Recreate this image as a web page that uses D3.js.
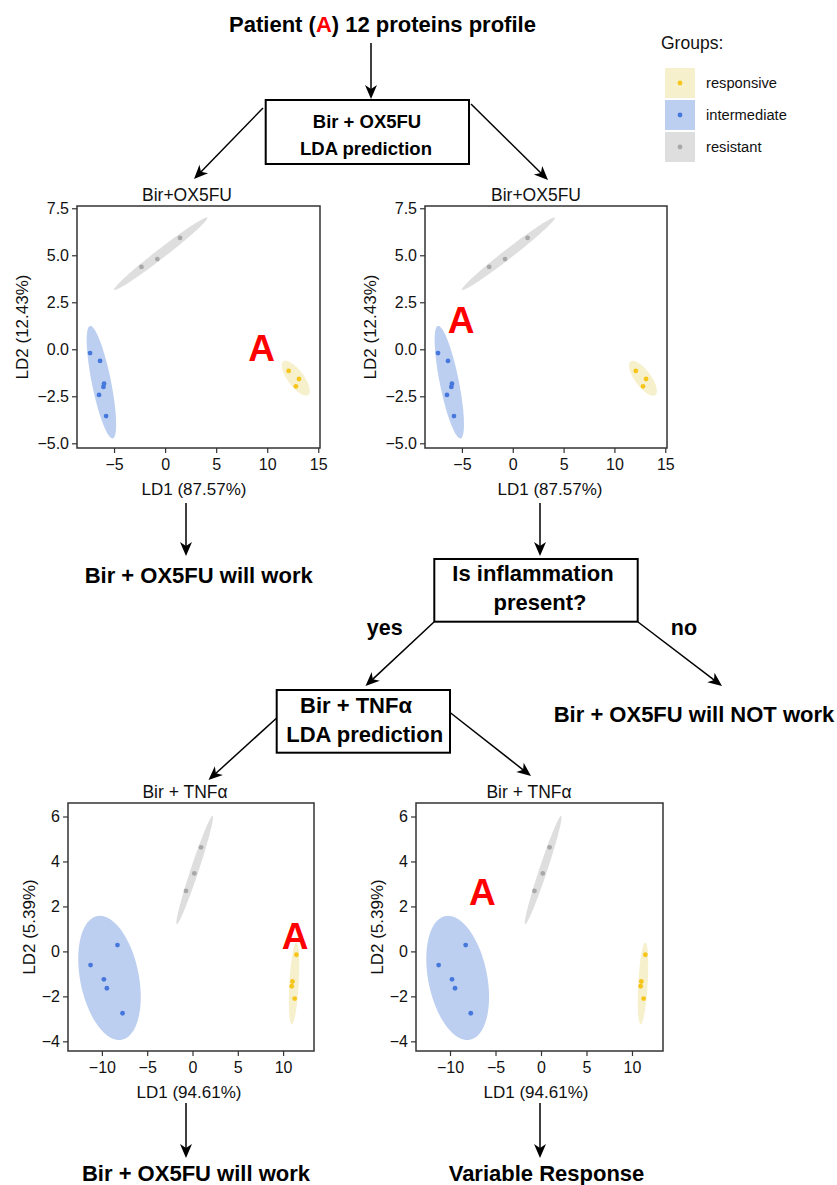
<!DOCTYPE html>
<html>
<head>
<meta charset="utf-8">
<script src="https://cdn.jsdelivr.net/npm/d3@7"></script>
<style>
body { margin: 0; background: #fff; }
text { font-family: "Liberation Sans", Arial, Helvetica, sans-serif; }
</style>
</head>
<body>
<svg id="chart" width="837" height="1185"></svg>
<script>
// グループ
var groups = ["responsive", "intermediate", "resistant"];
var groupFill = ["#f6f0cc", "#bccff0", "#dedede"];
var groupDot = ["#f6c51a", "#4677dc", "#a8a8a8"];

// Bir + OX5FU の LDA (LD1, LD2)
var oxResponsive = [[12.10, -1.15], [13.11, -1.58], [12.81, -1.97]];
var oxIntermediate = [[-7.35, -0.20], [-6.37, -0.62], [-5.98, -1.83], [-6.04, -2.00], [-6.47, -2.43], [-5.78, -3.55]];
var oxResistant = [[1.46, 5.92], [-0.76, 4.80], [-2.32, 4.38]];
// 楕円: 中心, 長軸ベクトル, 短軸ベクトル (データ単位)
var oxEllipses = [
    [12.80, -1.54, 1.22, -0.89, 0.63, 0.255],
    [-6.24, -1.75, 1.11, -2.99, 0.92, 0.10],
    [-0.43, 5.08, 4.57, 1.92, 0.28, -0.197]
];
var oxXTicks = [-5, 0, 5, 10, 15];
var oxYTicks = [-5, -2.5, 0, 2.5, 5, 7.5];
var oxXDomain = [-8.63, 15.17];
var oxYDomain = [-5.25, 7.62];
// 患者Aの位置 (左, 右)
var oxPatientA = [[9.45, -0.62], [-5.07, 0.89]];

// Bir + TNFα の LDA
var tnfResponsive = [[11.47, -0.15], [11.03, -1.34], [10.95, -1.55], [11.28, -2.10]];
var tnfIntermediate = [[-8.28, 0.28], [-11.25, -0.61], [-9.78, -1.24], [-9.45, -1.64], [-7.72, -2.75]];
var tnfResistant = [[0.94, 4.63], [0.20, 3.47], [-0.72, 2.69]];
var tnfEllipses = [
    [11.21, -1.42, -0.257, -1.82, 0.514, -0.012],
    [-9.16, -1.18, 1.36, -2.75, 3.17, 0.257],
    [0.24, 3.62, 1.98, 2.41, 0.418, -0.056]
];
var tnfXTicks = [-10, -5, 0, 5, 10];
var tnfYTicks = [-4, -2, 0, 2, 4, 6];
var tnfXDomain = [-13.74, 13.41];
var tnfYDomain = [-4.43, 6.6];
var tnfPatientA = [[11.32, 0.09], [-6.44, 2.06]];

var svg = d3.select("#chart");

// パネルの設定
var panels = [
    { title: "Bir+OX5FU", l: 77, t: 206, r: 320, b: 448, titleX: 187, xLabX: 194, yLabX: 27.7,
      xd: oxXDomain, yd: oxYDomain, xt: oxXTicks, yt: oxYTicks, fmt: ".1f",
      xLab: "LD1 (87.57%)", yLab: "LD2 (12.43%)",
      pts: [oxResponsive, oxIntermediate, oxResistant], ell: oxEllipses, a: oxPatientA[0] },
    { title: "Bir+OX5FU", l: 425, t: 206, r: 667, b: 448, titleX: 536, xLabX: 550, yLabX: 376,
      xd: oxXDomain, yd: oxYDomain, xt: oxXTicks, yt: oxYTicks, fmt: ".1f",
      xLab: "LD1 (87.57%)", yLab: "LD2 (12.43%)",
      pts: [oxResponsive, oxIntermediate, oxResistant], ell: oxEllipses, a: oxPatientA[1] },
    { title: "Bir + TNFα", l: 68, t: 803, r: 314, b: 1051, titleX: 185, xLabX: 189, yLabX: 35,
      xd: tnfXDomain, yd: tnfYDomain, xt: tnfXTicks, yt: tnfYTicks, fmt: "d",
      xLab: "LD1 (94.61%)", yLab: "LD2 (5.39%)",
      pts: [tnfResponsive, tnfIntermediate, tnfResistant], ell: tnfEllipses, a: tnfPatientA[0] },
    { title: "Bir + TNFα", l: 416, t: 803, r: 663, b: 1051, titleX: 529, xLabX: 536, yLabX: 383,
      xd: tnfXDomain, yd: tnfYDomain, xt: tnfXTicks, yt: tnfYTicks, fmt: "d",
      xLab: "LD1 (94.61%)", yLab: "LD2 (5.39%)",
      pts: [tnfResponsive, tnfIntermediate, tnfResistant], ell: tnfEllipses, a: tnfPatientA[1] }
];

var angles = d3.range(0, 2 * Math.PI, Math.PI / 60);

panels.forEach(function (p) {
    var x = d3.scaleLinear().domain(p.xd).range([p.l, p.r]);
    var y = d3.scaleLinear().domain(p.yd).range([p.b, p.t]);
    var g = svg.append("g");

    // 楕円
    p.ell.forEach(function (e, i) {
        var line = d3.line()
            .x(function (a) { return x(e[0] + e[2] * Math.cos(a) + e[4] * Math.sin(a)); })
            .y(function (a) { return y(e[1] + e[3] * Math.cos(a) + e[5] * Math.sin(a)); })
            .curve(d3.curveLinearClosed);
        g.append("path")
            .attr("d", line(angles))
            .attr("fill", groupFill[i]);
    });

    // 点
    p.pts.forEach(function (pts, i) {
        g.selectAll(null)
            .data(pts)
            .enter()
            .append("circle")
            .attr("cx", function (d) { return x(d[0]); })
            .attr("cy", function (d) { return y(d[1]); })
            .attr("r", 2.4)
            .attr("fill", groupDot[i]);
    });

    // 患者A
    g.append("text")
        .attr("x", x(p.a[0]))
        .attr("y", y(p.a[1]))
        .attr("text-anchor", "middle")
        .attr("font-size", "37px")
        .attr("font-weight", "bold")
        .attr("fill", "#ff0000")
        .text("A");

    // 枠
    g.append("rect")
        .attr("x", p.l).attr("y", p.t)
        .attr("width", p.r - p.l).attr("height", p.b - p.t)
        .attr("fill", "none")
        .attr("stroke", "#333")
        .attr("stroke-width", 1.5);

    var xAxis = g.append("g")
        .attr("transform", "translate(0," + p.b + ")")
        .call(d3.axisBottom(x).tickValues(p.xt).tickSize(5).tickPadding(6));
    var yAxis = g.append("g")
        .attr("transform", "translate(" + p.l + ",0)")
        .call(d3.axisLeft(y).tickValues(p.yt).tickFormat(d3.format(p.fmt)).tickSize(5).tickPadding(3));
    [xAxis, yAxis].forEach(function (ax) {
        ax.select(".domain").remove();
        ax.selectAll("line").attr("stroke", "#333").attr("stroke-width", 1.2);
        ax.selectAll("text")
            .attr("fill", "#111")
            .attr("font-size", "16px")
            .attr("font-family", "Liberation Sans, Arial, sans-serif");
    });

    g.append("text")
        .attr("x", p.titleX)
        .attr("y", p.t - 5.5)
        .attr("text-anchor", "middle")
        .attr("font-size", "17.5px")
        .attr("fill", "#111")
        .text(p.title);
    g.append("text")
        .attr("x", p.xLabX)
        .attr("y", p.b + 47)
        .attr("text-anchor", "middle")
        .attr("font-size", "17px")
        .attr("fill", "#111")
        .text(p.xLab);
    g.append("text")
        .attr("transform", "translate(" + p.yLabX + "," + (p.t + p.b) / 2 + ") rotate(-90)")
        .attr("text-anchor", "middle")
        .attr("font-size", "17px")
        .attr("fill", "#111")
        .text(p.yLab);
});

// 凡例
var legend = svg.append("g");
legend.append("text")
    .attr("x", 661).attr("y", 49)
    .attr("font-size", "17.5px")
    .attr("fill", "#111")
    .text("Groups:");
groups.forEach(function (name, i) {
    var ky = 68 + i * 32;
    legend.append("rect")
        .attr("x", 665).attr("y", ky)
        .attr("width", 30).attr("height", 30)
        .attr("fill", groupFill[i]);
    legend.append("circle")
        .attr("cx", 680).attr("cy", ky + 15)
        .attr("r", 2.4)
        .attr("fill", groupDot[i]);
    legend.append("text")
        .attr("x", 706).attr("y", ky + 20)
        .attr("font-size", "14.7px")
        .attr("fill", "#111")
        .text(name);
});

// フローチャート
var flow = svg.append("g");

function arrow(x1, y1, x2, y2) {
    var ang = Math.atan2(y2 - y1, x2 - x1) * 180 / Math.PI;
    flow.append("line")
        .attr("x1", x1).attr("y1", y1)
        .attr("x2", x2 - 6 * Math.cos(ang * Math.PI / 180))
        .attr("y2", y2 - 6 * Math.sin(ang * Math.PI / 180))
        .attr("stroke", "#000")
        .attr("stroke-width", 1.5);
    flow.append("path")
        .attr("d", "M0,0 L-14,-6 L-10,0 L-14,6 Z")
        .attr("transform", "translate(" + x2 + "," + y2 + ") rotate(" + ang + ")")
        .attr("fill", "#000");
}

function label(x, y, size, lines) {
    lines.forEach(function (s, i) {
        flow.append("text")
            .attr("x", x[i]).attr("y", y[i])
            .attr("text-anchor", "middle")
            .attr("font-size", size + "px")
            .attr("font-weight", "bold")
            .attr("fill", "#000")
            .text(s);
    });
}

function box(x1, y1, x2, y2) {
    flow.append("rect")
        .attr("x", x1).attr("y", y1)
        .attr("width", x2 - x1).attr("height", y2 - y1)
        .attr("fill", "#fff")
        .attr("stroke", "#000")
        .attr("stroke-width", 2);
}

var title = flow.append("text")
    .attr("x", 382.5).attr("y", 32)
    .attr("text-anchor", "middle")
    .attr("font-size", "22px")
    .attr("font-weight", "bold")
    .attr("fill", "#000");
title.append("tspan").text("Patient (");
title.append("tspan").attr("fill", "#ff0000").text("A");
title.append("tspan").text(") 12 proteins profile");

arrow(371, 43, 371, 99);
box(265.7, 100, 469, 164);
label([367, 366], [127.7, 155], 18.5, ["Bir + OX5FU", "LDA prediction"]);
arrow(263, 108, 194, 179);
arrow(471, 104, 548, 180);

arrow(186, 503, 186, 556);
arrow(540, 503, 540, 556);
label([198.7], [582.7], 22, ["Bir + OX5FU will work"]);

box(434.3, 559, 637.7, 621.7);
label([533, 540], [581, 610], 22, ["Is inflammation", "present?"]);
label([384.7, 684], [635, 635], 21.5, ["yes", "no"]);
arrow(434, 622, 365.5, 686);
arrow(638, 622, 722, 686);
label([694], [721.7], 22, ["Bir + OX5FU will NOT work"]);

box(276.7, 690, 450, 752.7);
label([356, 364.7], [713.3, 741.7], 22, ["Bir + TNFα", "LDA prediction"]);
arrow(276.7, 718, 208.5, 780);
arrow(450.7, 713, 531, 776);

arrow(186, 1103, 186, 1158);
arrow(540, 1103, 540, 1158);
label([196, 546.5], [1181, 1181], 22, ["Bir + OX5FU will work", "Variable Response"]);
</script>
</body>
</html>
